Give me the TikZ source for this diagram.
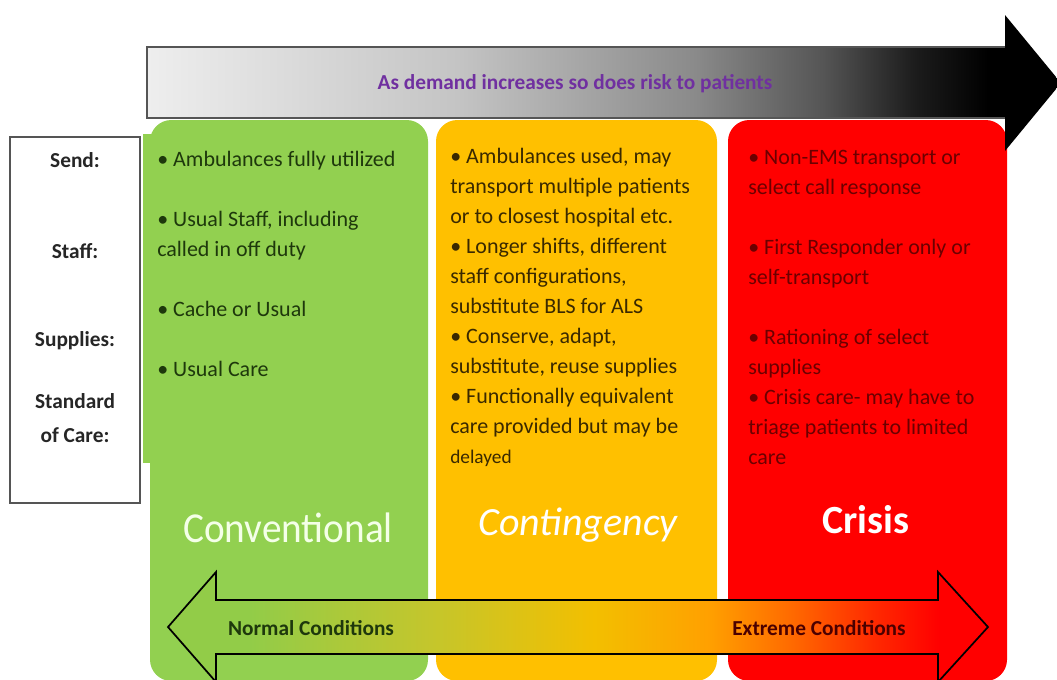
\documentclass[tikz,border=0pt]{standalone}
\usepackage{fontspec}
\setmainfont{Carlito}
\newfontfamily\narrowfont[FakeStretch=0.92]{Carlito}
\definecolor{CSCGreen}{HTML}{92D050}
\definecolor{CSCAmber}{HTML}{FFC000}
\definecolor{CSCRed}{HTML}{FF0000}
\definecolor{CSCPurple}{HTML}{7030A0}
\definecolor{CSCFrame}{HTML}{555555}
\definecolor{CSCGreenInk}{HTML}{1E380C}
\definecolor{CSCAmberInk}{HTML}{3A2900}
\definecolor{CSCRedInk}{HTML}{6B0000}
\definecolor{CSCTitle}{HTML}{F4FFE8}
% stops of the demand arrow, light grey to black
\definecolor{CSCGreyA}{HTML}{EEEEEE}
\definecolor{CSCGreyB}{HTML}{C4C4C4}
\definecolor{CSCGreyC}{HTML}{8A8A8A}
\definecolor{CSCGreyD}{HTML}{555555}
\definecolor{CSCGreyE}{HTML}{1C1C1C}
% stops of the conditions arrow, green to red
\definecolor{CSCCondA}{HTML}{92CC48}
\definecolor{CSCCondB}{HTML}{C4C62C}
\definecolor{CSCCondC}{HTML}{F3BF00}
\definecolor{CSCCondD}{HTML}{FFA000}
\definecolor{CSCCondE}{HTML}{FF6A00}
\definecolor{CSCCondF}{HTML}{FF2A00}
\pgfdeclarehorizontalshading{demandshade}{100bp}{%
  color(0bp)=(CSCGreyA); color(25bp)=(CSCGreyA); color(42bp)=(CSCGreyB);
  color(55bp)=(CSCGreyC); color(62bp)=(CSCGreyD); color(67bp)=(CSCGreyE);
  color(71bp)=(black); color(100bp)=(black)}
\pgfdeclarehorizontalshading{conditionshade}{100bp}{%
  color(0bp)=(CSCCondA); color(30bp)=(CSCCondA); color(41bp)=(CSCCondB);
  color(51bp)=(CSCCondC); color(58bp)=(CSCCondD); color(63bp)=(CSCCondE);
  color(68bp)=(CSCCondF); color(72bp)=(CSCRed); color(100bp)=(CSCRed)}

\begin{document}
\begin{tikzpicture}[x=0.75pt,y=-0.75pt,
    phase/.style={rounded corners=16pt},
    bullets/.style={anchor=north west,inner sep=0pt,align=left,
      font=\fontsize{16.5}{22.5}\selectfont},
    rowlabel/.style={inner sep=0pt,align=center,text=black!85,
      font=\fontsize{16}{25.5}\selectfont\bfseries},
    phasetitle/.style={anchor=base,inner sep=0pt},
    band/.style={inner sep=0pt,font=\fontsize{16}{18}\selectfont\bfseries}
  ]
  \useasboundingbox (0,0) rectangle (1057,679);

  % phase columns
  \fill[CSCGreen,phase] (150,120) rectangle (428,681);
  \fill[CSCGreen] (143,134) rectangle (160,463);
  \fill[CSCAmber,phase] (436,120) rectangle (717,681);
  \fill[CSCRed,phase] (728,120) rectangle (1007,681);

  % row headings
  \draw[CSCFrame,line width=1.1pt,fill=white] (10,137) rectangle (140,503);
  \node[rowlabel] (send) at (75,160) {Send:};
  \node[rowlabel] (staff) at (75,251) {Staff:};
  \node[rowlabel] (supplies) at (75,341) {Supplies:};
  \node[rowlabel] (standard) at (75,418) {Standard\\of Care:};

  % demand arrow
  \shade[shading=demandshade]
    (147,47) -- (1005,47) -- (1005,15) -- (1061,83) -- (1005,151)
    -- (1005,118) -- (147,118) -- cycle;
  \draw[CSCFrame,line width=1.2pt] (1005,47) -- (147,47) -- (147,118) -- (1005,118);
  \node[band,text=CSCPurple] (demand) at (575,84)
    {As demand increases so does risk to patients};

  % bullet lists
  \node[bullets,text=CSCGreenInk] (convlist) at (157,151)
    {• Ambulances fully utilized\\[22.5pt]
     • Usual Staff, including\\ called in off duty\\[22.5pt]
     • Cache or Usual\\[22.5pt]
     • Usual Care};
  \node[bullets,text=CSCAmberInk] (contlist) at (450,148)
    {• Ambulances used, may\\ transport multiple patients\\
     or to closest hospital etc.\\
     • Longer shifts, different\\ staff configurations,\\
     substitute BLS for ALS\\
     • Conserve, adapt,\\ substitute, reuse supplies\\
     • Functionally equivalent\\ care provided but may be\\
     {\fontsize{14.5}{22.5}\selectfont delayed}};
  \node[bullets,text=CSCRedInk] (crisislist) at (748,150)
    {• Non-EMS transport or\\ select call response\\[22.5pt]
     • First Responder only or\\ self-transport\\[22.5pt]
     • Rationing of select\\ supplies\\
     • Crisis care- may have to\\ triage patients to limited\\ care};

  % phase names
  \node[phasetitle,text=CSCTitle,font=\narrowfont\fontsize{32}{36}\selectfont]
    (conv) at (288,542) {Conventional};
  \node[phasetitle,text=white,font=\fontsize{30}{36}\selectfont\itshape]
    (cont) at (578,535) {Contingency};
  \node[phasetitle,text=white,font=\fontsize{30}{36}\selectfont\bfseries]
    (crisis) at (866,533) {Crisis};

  % conditions arrow
  \draw[line width=1.3pt,shade,shading=conditionshade]
    (168,627) -- (216,572) -- (216,600) -- (938,600) -- (938,572) -- (988,627)
    -- (938,682) -- (938,654) -- (216,654) -- (216,682) -- cycle;
  \node[band,text=CSCGreenInk] (normal) at (311,628) {Normal Conditions};
  \node[band,text=CSCRedInk!70!black] (extreme) at (819,628) {Extreme Conditions};
\end{tikzpicture}
\end{document}
